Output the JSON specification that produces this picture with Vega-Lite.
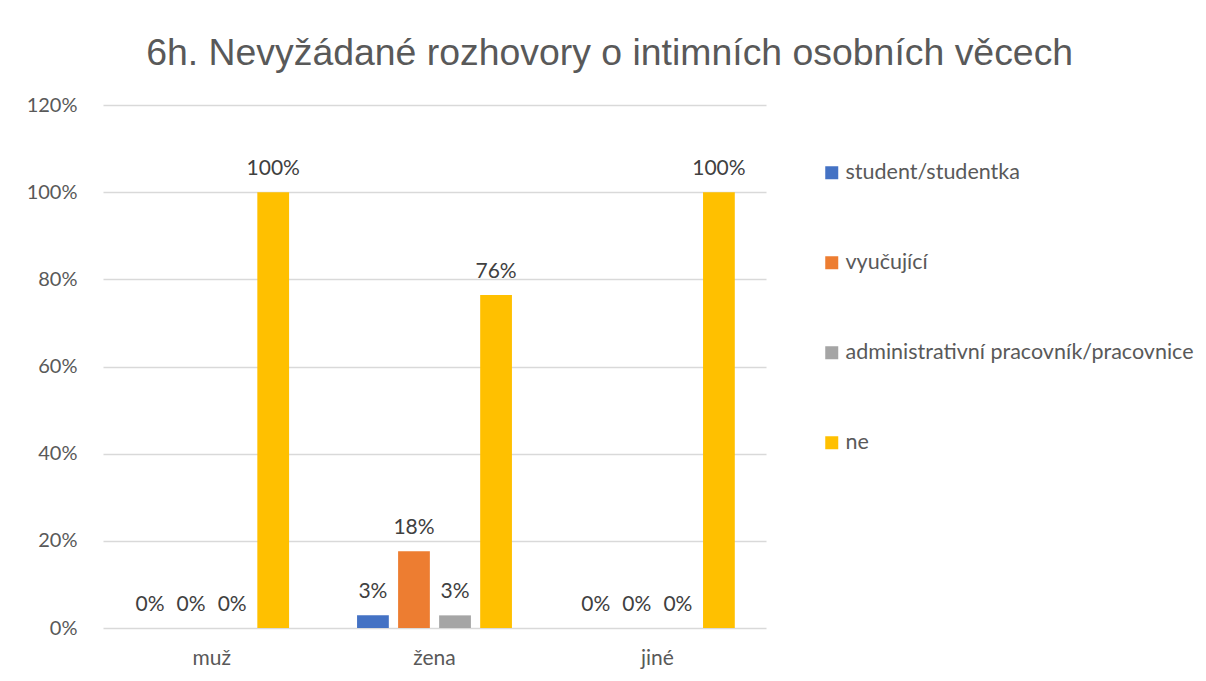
{
  "$schema": "https://vega.github.io/schema/vega-lite/v6.json",
  "autosize": "none",
  "width": 663,
  "height": 523,
  "padding": {"left": 103, "top": 105, "right": 440, "bottom": 53},
  "background": "white",
  "title": {
    "text": "6h. Nevyžádané rozhovory o intimních osobních věcech",
    "anchor": "start",
    "dx": 120,
    "offset": 23,
    "font": "Liberation Sans",
    "fontSize": 37.4,
    "fontWeight": "normal",
    "color": "#595959"
  },
  "data": {
    "values": [
      {"pohlavi": "muž", "skupina": "student/studentka", "podil": 0},
      {"pohlavi": "muž", "skupina": "vyučující", "podil": 0},
      {"pohlavi": "muž", "skupina": "administrativní pracovník/pracovnice", "podil": 0},
      {"pohlavi": "muž", "skupina": "ne", "podil": 1},
      {"pohlavi": "žena", "skupina": "student/studentka", "podil": 0.029},
      {"pohlavi": "žena", "skupina": "vyučující", "podil": 0.176},
      {"pohlavi": "žena", "skupina": "administrativní pracovník/pracovnice", "podil": 0.029},
      {"pohlavi": "žena", "skupina": "ne", "podil": 0.764},
      {"pohlavi": "jiné", "skupina": "student/studentka", "podil": 0},
      {"pohlavi": "jiné", "skupina": "vyučující", "podil": 0},
      {"pohlavi": "jiné", "skupina": "administrativní pracovník/pracovnice", "podil": 0},
      {"pohlavi": "jiné", "skupina": "ne", "podil": 1}
    ]
  },
  "encoding": {
    "x": {
      "field": "pohlavi",
      "type": "nominal",
      "sort": ["muž", "žena", "jiné"],
      "scale": {"paddingInner": 0.305, "paddingOuter": 0.14},
      "axis": {
        "title": null,
        "labelAngle": 0,
        "labelFont": "Lato",
        "labelFontSize": 21,
        "labelColor": "#595959",
        "labelPadding": 19,
        "ticks": false,
        "domain": false
      }
    },
    "xOffset": {
      "field": "skupina",
      "type": "nominal",
      "sort": ["student/studentka", "vyučující", "administrativní pracovník/pracovnice", "ne"],
      "scale": {"paddingInner": 0.226, "paddingOuter": 0}
    },
    "y": {
      "field": "podil",
      "type": "quantitative",
      "scale": {"domain": [0, 1.2], "nice": false},
      "axis": {
        "title": null,
        "values": [0, 0.2, 0.4, 0.6, 0.8, 1, 1.2],
        "format": ".0%",
        "labelFont": "Lato",
        "labelFontSize": 20,
        "labelColor": "#595959",
        "labelPadding": 26,
        "ticks": false,
        "domain": false,
        "gridColor": "#D9D9D9",
        "gridWidth": 1.5
      }
    }
  },
  "layer": [
    {
      "mark": {"type": "bar"},
      "encoding": {
        "color": {
          "field": "skupina",
          "type": "nominal",
          "sort": ["student/studentka", "vyučující", "administrativní pracovník/pracovnice", "ne"],
          "scale": {
            "domain": ["student/studentka", "vyučující", "administrativní pracovník/pracovnice", "ne"],
            "range": ["#4472C4", "#ED7D31", "#A5A5A5", "#FFC000"]
          },
          "legend": {
            "title": null,
            "orient": "none",
            "legendX": 718,
            "legendY": 57,
            "direction": "vertical",
            "symbolType": "square",
            "symbolSize": 169,
            "symbolStrokeWidth": 0,
            "labelFont": "Lato",
            "labelFontSize": 21.5,
            "labelColor": "#595959",
            "labelOffset": 3,
            "labelLimit": 500,
            "rowPadding": 67
          }
        }
      }
    },
    {
      "mark": {
        "type": "text",
        "baseline": "bottom",
        "dy": -13,
        "font": "Lato",
        "fontSize": 21,
        "color": "#404040"
      },
      "encoding": {
        "text": {"field": "podil", "type": "quantitative", "format": ".0%"}
      }
    }
  ],
  "config": {
    "view": {"stroke": null}
  }
}
